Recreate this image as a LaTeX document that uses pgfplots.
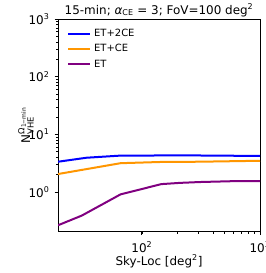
\documentclass[border=0pt]{standalone}
\usepackage{fontspec}
\setmainfont{DejaVu Sans}
\usepackage{pgfplots}
\pgfplotsset{compat=1.18}
\definecolor{cblue}{RGB}{0,0,255}
\definecolor{corange}{RGB}{255,150,0}
\definecolor{cpurple}{RGB}{128,0,128}
\begin{document}
\fontsize{12}{14.4}\selectfont
\begin{tikzpicture}
\begin{axis}[
  at={(0,0)}, anchor=south west,
  scale only axis, width=202bp, height=212.7bp,
  xmode=log, ymode=log,
  xmin=19.5, xmax=1000, ymin=0.205, ymax=1000,
  axis line style={line width=0.8bp},
  tick align=outside, xtick pos=bottom, ytick pos=left,
  major tick length=3.5bp, minor tick length=2bp,
  every tick/.style={black, line width=0.8bp},
  minor tick style={line width=0.6bp},
  xtick={100,1000}, xticklabels={10\textsuperscript{2},10\textsuperscript{3}},
  ytick={1,10,100,1000}, yticklabels={10\textsuperscript{0},10\textsuperscript{1},10\textsuperscript{2},10\textsuperscript{3}},
  xticklabel style={anchor=base, yshift=-17bp},
  yticklabel style={anchor=east, xshift=-1bp},
  title={15-min; {\itshape α}\textsubscript{CE} = 3; FoV=100 deg\textsuperscript{2}},
  title style={at={(axis description cs:0.5,1)}, anchor=base, yshift=-1bp},
  xlabel={Sky-Loc [deg\textsuperscript{2}]},
  xlabel style={at={(axis description cs:0.5,0)}, anchor=base, yshift=-33.3bp},
  ylabel={N$^{\mbox{\fontsize{8.4}{9}\selectfont Ω\raisebox{-0.35ex}{\fontsize{6}{7}\selectfont 1−min}}}_{\mbox{\fontsize{8.4}{9}\selectfont VHE}}$},
  ylabel style={at={(axis description cs:-0.1386,0.5)}, anchor=base},
  legend style={draw=none, fill=none, at={(axis description cs:0,1)}, anchor=north west,
    xshift=6bp, yshift=-5bp, font=\fontsize{10}{12}\selectfont,
    nodes={text height=7.5bp, text depth=2bp, inner ysep=2.9bp, inner xsep=3bp}},
  legend cell align=left,
  legend image code/.code={\draw[#1] (0bp,0bp) -- (22bp,0bp);},
]
\addplot[cblue, line width=2bp] coordinates {(19.5,3.35) (34,3.93) (66,4.28) (146,4.3) (300,4.3) (1000,4.22)};
\addlegendentry{ET+2CE}
\addplot[corange, line width=2bp] coordinates {(19.5,2.05) (66,3.16) (146,3.32) (300,3.35) (1000,3.48)};
\addlegendentry{ET+CE}
\addplot[cpurple, line width=2bp] coordinates {(19.5,0.265) (31,0.39) (66,0.91) (146,1.37) (210,1.44) (310,1.49) (580,1.54) (1000,1.54)};
\addlegendentry{ET}
\end{axis}
\pgfresetboundingbox
\useasboundingbox (-58bp,-41.3bp) rectangle (208bp,231.7bp);
\end{tikzpicture}
\end{document}
